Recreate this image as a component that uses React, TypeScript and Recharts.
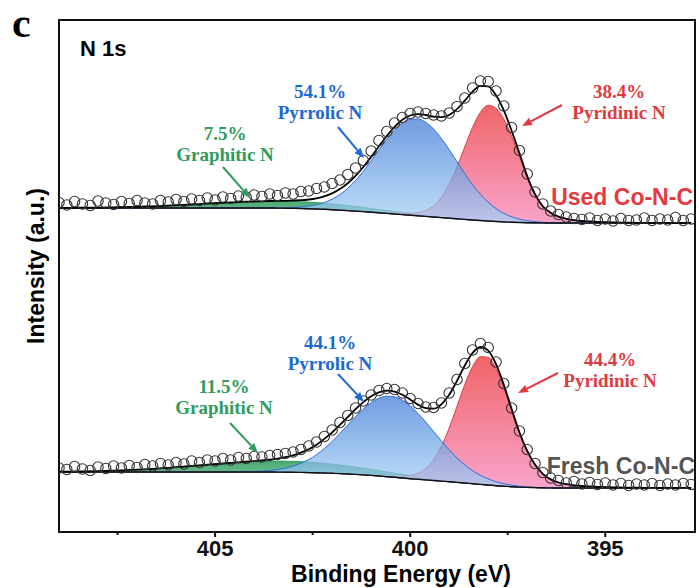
import React from 'react';
import { ComposedChart, Area, Line, Scatter, XAxis, YAxis, ReferenceArea } from 'recharts';

// binding energy grid (eV), high -> low
const energy = [
  409.0, 408.8, 408.6, 408.4, 408.2, 408.0, 407.8, 407.6, 407.4, 407.2,
  407.0, 406.8, 406.6, 406.4, 406.2, 406.0, 405.8, 405.6, 405.4, 405.2,
  405.0, 404.8, 404.6, 404.4, 404.2, 404.0, 403.8, 403.6, 403.4, 403.2,
  403.0, 402.8, 402.6, 402.4, 402.2, 402.0, 401.8, 401.6, 401.4, 401.2,
  401.0, 400.8, 400.6, 400.4, 400.2, 400.0, 399.8, 399.6, 399.4, 399.2,
  399.0, 398.8, 398.6, 398.4, 398.2, 398.0, 397.8, 397.6, 397.4, 397.2,
  397.0, 396.8, 396.6, 396.4, 396.2, 396.0, 395.8, 395.6, 395.4, 395.2,
  395.0, 394.8, 394.6, 394.4, 394.2, 394.0, 393.8, 393.6, 393.4, 393.2,
  393.0, 392.8,
];

// ---- Used Co-N-C (offset upwards) ----
const usedBackground = [
  324.0, 324.0, 324.0, 324.0, 324.0, 324.0, 324.0, 324.0, 324.0, 324.0,
  324.0, 324.0, 324.0, 324.0, 324.0, 324.0, 324.0, 324.0, 324.0, 324.0,
  324.0, 324.0, 324.0, 324.0, 324.0, 324.0, 324.0, 324.0, 323.9, 323.8,
  323.7, 323.5, 323.3, 323.0, 322.7, 322.3, 321.9, 321.4, 320.9, 320.4,
  319.8, 319.2, 318.6, 318.0, 317.4, 316.8, 316.2, 315.6, 315.0, 314.4,
  313.8, 313.2, 312.6, 312.0, 311.5, 311.0, 310.5, 310.1, 309.8, 309.5,
  309.3, 309.2, 309.1, 309.0, 309.0, 309.0, 309.0, 309.0, 309.0, 309.0,
  309.0, 309.0, 309.0, 309.0, 309.0, 309.0, 309.0, 309.0, 309.0, 309.0,
  309.0, 309.0,
];
const usedGraphitic = [
  0.1, 0.2, 0.2, 0.3, 0.3, 0.4, 0.5, 0.7, 0.8, 1.0,
  1.2, 1.5, 1.7, 2.0, 2.4, 2.7, 3.1, 3.5, 3.9, 4.4,
  4.8, 5.2, 5.6, 5.9, 6.3, 6.5, 6.7, 6.9, 7.0, 7.0,
  7.0, 6.8, 6.6, 6.4, 6.1, 5.8, 5.4, 5.0, 4.6, 4.1,
  3.7, 3.3, 2.9, 2.5, 2.2, 1.9, 1.6, 1.3, 1.1, 0.9,
  0.7, 0.6, 0.5, 0.4, 0.3, 0.2, 0.2, 0.1, 0.1, 0.1,
  0.1, 0, 0, 0, 0, 0, 0, 0, 0, 0,
  0, 0, 0, 0, 0, 0, 0, 0, 0, 0,
  0, 0,
];
const usedPyrrolic = [
  0, 0, 0, 0, 0, 0, 0, 0, 0, 0,
  0, 0, 0, 0, 0, 0, 0, 0, 0, 0,
  0, 0, 0, 0, 0, 0, 0, 0.1, 0.2, 0.4,
  0.8, 1.5, 2.6, 4.3, 6.8, 10.5, 15.6, 22.3, 30.6, 40.4,
  51.4, 62.9, 74.0, 83.9, 91.5, 96.0, 96.9, 94.1, 88.0, 79.2,
  68.5, 57.1, 45.8, 35.3, 26.2, 18.7, 12.9, 8.5, 5.4, 3.3,
  2.0, 1.1, 0.6, 0.3, 0.1, 0, 0, 0, 0, 0,
  0, 0, 0, 0, 0, 0, 0, 0, 0, 0,
  0, 0,
];
const usedPyridinic = [
  0, 0, 0, 0, 0, 0, 0, 0, 0, 0,
  0, 0, 0, 0, 0, 0, 0, 0, 0, 0,
  0, 0, 0, 0, 0, 0, 0, 0, 0, 0,
  0, 0, 0, 0, 0, 0, 0, 0, 0, 0.1,
  0.2, 0.3, 0.5, 0.8, 1.2, 1.8, 3.2, 6.0, 11.2, 20.4,
  34.0, 51.9, 72.5, 92.6, 108.2, 115.7, 113.1, 103.0, 86.0, 66.0,
  44.5, 27.5, 16.0, 10.0, 6.3, 4.2, 2.8, 2.0, 1.5, 1.1,
  0.8, 0.6, 0.4, 0.3, 0.2, 0.1, 0, 0, 0, 0,
  0, 0,
];
const usedRaw = [
  329.5, 327.0, 330.5, 328.0, 326.5, 331.0, 329.0, 327.5, 330.5, 328.5,
  331.5, 329.0, 328.0, 331.5, 330.0, 332.5, 330.5, 333.0, 331.5, 334.0,
  332.0, 335.0, 333.5, 336.0, 334.5, 337.0, 335.5, 338.0, 336.5, 339.0,
  338.0, 340.5, 341.0, 343.5, 345.0, 348.5, 352.0, 357.5, 364.0, 371.5,
  381.0, 391.5, 400.5, 409.0, 414.5, 418.5, 420.0, 418.5, 417.0, 416.0,
  419.0, 425.5, 434.0, 444.0, 451.0, 450.5, 441.0, 426.0, 404.5, 381.5,
  358.0, 340.0, 328.0, 321.0, 317.5, 315.0, 313.5, 312.5, 314.0, 311.5,
  313.0, 311.0, 313.5, 311.5, 312.0, 314.0, 311.5, 313.0, 312.0, 314.5,
  311.5, 313.0,
];

// ---- Fresh Co-N-C ----
const freshBackground = [
  60.0, 60.0, 60.0, 60.0, 60.0, 60.0, 60.0, 60.0, 60.0, 60.0,
  60.0, 60.0, 60.0, 60.0, 60.0, 60.0, 60.0, 60.0, 60.0, 60.0,
  60.0, 60.0, 60.0, 60.0, 60.0, 60.0, 60.0, 60.0, 59.9, 59.8,
  59.7, 59.6, 59.4, 59.2, 59.0, 58.7, 58.4, 58.0, 57.6, 57.1,
  56.6, 56.0, 55.3, 54.7, 54.0, 53.3, 52.7, 52.1, 51.5, 50.9,
  50.3, 49.6, 49.0, 48.3, 47.6, 47.0, 46.3, 45.8, 45.3, 44.9,
  44.6, 44.4, 44.2, 44.1, 44.0, 44.0, 44.0, 44.0, 44.0, 44.0,
  44.0, 44.0, 44.0, 44.0, 44.0, 44.0, 44.0, 44.0, 44.0, 44.0,
  44.0, 44.0,
];
const freshGraphitic = [
  0.3, 0.4, 0.5, 0.6, 0.7, 0.9, 1.1, 1.4, 1.6, 2.0,
  2.3, 2.7, 3.2, 3.7, 4.2, 4.8, 5.4, 6.0, 6.7, 7.3,
  7.9, 8.5, 9.1, 9.6, 10.0, 10.4, 10.7, 10.9, 11.0, 11.0,
  10.9, 10.7, 10.4, 10.0, 9.6, 9.1, 8.5, 7.9, 7.3, 6.7,
  6.0, 5.4, 4.8, 4.2, 3.7, 3.2, 2.7, 2.3, 2.0, 1.6,
  1.4, 1.1, 0.9, 0.7, 0.6, 0.5, 0.4, 0.3, 0.2, 0.2,
  0.1, 0.1, 0.1, 0, 0, 0, 0, 0, 0, 0,
  0, 0, 0, 0, 0, 0, 0, 0, 0, 0,
  0, 0,
];
const freshPyrrolic = [
  0, 0, 0, 0, 0, 0, 0, 0, 0, 0,
  0, 0, 0, 0, 0, 0, 0, 0, 0, 0,
  0, 0, 0, 0.1, 0.3, 0.5, 0.9, 1.5, 2.5, 4.0,
  6.1, 9.1, 13.0, 18.1, 24.5, 31.8, 40.2, 49.0, 57.8, 65.9,
  72.9, 77.8, 80.5, 80.5, 77.8, 72.9, 65.9, 57.8, 49.0, 40.2,
  31.8, 24.5, 18.1, 13.0, 9.1, 6.1, 4.0, 2.5, 1.5, 0.9,
  0.5, 0.3, 0.1, 0, 0, 0, 0, 0, 0, 0,
  0, 0, 0, 0, 0, 0, 0, 0, 0, 0,
  0, 0,
];
const freshPyridinic = [
  0, 0, 0, 0, 0, 0, 0, 0, 0, 0,
  0, 0, 0, 0, 0, 0, 0, 0, 0, 0,
  0, 0, 0, 0, 0, 0, 0, 0, 0, 0,
  0, 0, 0, 0, 0, 0, 0, 0, 0.1, 0.2,
  0.3, 0.5, 0.7, 1.0, 1.7, 3.2, 6.1, 11.6, 20.8, 35.0,
  53.7, 76.0, 98.5, 117.1, 127.7, 127.7, 117.1, 98.5, 76.0, 53.7,
  35.9, 22.7, 13.8, 8.5, 5.5, 3.8, 2.7, 2.0, 1.6, 1.2,
  0.9, 0.7, 0.5, 0.35, 0.25, 0.15, 0.1, 0, 0, 0,
  0, 0,
];
const freshRaw = [
  64.0, 62.5, 65.5, 63.0, 61.5, 65.0, 63.5, 66.0, 64.0, 66.5,
  64.5, 67.5, 66.0, 68.5, 67.0, 69.5, 68.0, 71.0, 69.5, 72.0,
  71.0, 73.5, 72.0, 74.5, 73.5, 75.5, 75.0, 76.5, 77.5, 78.5,
  80.0, 82.5, 86.0, 90.0, 95.5, 102.0, 109.5, 116.5, 124.0, 131.0,
  137.0, 141.5, 143.5, 142.5, 139.0, 133.5, 128.5, 125.0, 124.5, 129.0,
  139.0, 152.5, 168.5, 182.0, 188.5, 184.5, 170.0, 148.5, 124.0, 101.0,
  82.5, 68.5, 59.5, 54.0, 51.5, 49.0, 50.5, 48.0, 49.5, 47.5,
  49.0, 47.0, 48.5, 46.5, 48.0, 47.0, 48.5, 46.5, 48.0, 47.0,
  48.5, 47.5,
];

const majorTicks = [407.5, 405, 402.5, 400, 397.5, 395];

const SANS = '"Liberation Sans", Arial, sans-serif';
const SERIF = '"Liberation Serif", "Times New Roman", serif';
const BLUE = '#1d69d4';
const RED = '#e2393e';
const GREEN = '#2f9c5e';

const rows = energy.map((e, i) => {
  const ub = usedBackground[i];
  const fb = freshBackground[i];
  return {
    e,
    uBase: ub,
    uGra: [ub, ub + usedGraphitic[i]],
    uPyr: [ub, ub + usedPyrrolic[i]],
    uPyd: [ub, ub + usedPyridinic[i]],
    uFit: ub + usedGraphitic[i] + usedPyrrolic[i] + usedPyridinic[i],
    fBase: fb,
    fGra: [fb, fb + freshGraphitic[i]],
    fPyr: [fb, fb + freshPyrrolic[i]],
    fPyd: [fb, fb + freshPyridinic[i]],
    fFit: fb + freshGraphitic[i] + freshPyrrolic[i] + freshPyridinic[i],
  };
});

const usedPts = energy.map((e, i) => ({ e, y: usedRaw[i] }));
const freshPts = energy.map((e, i) => ({ e, y: freshRaw[i] }));

const EnergyTick = (props: any) => {
  const { x, y, payload } = props;
  const major = payload.value % 5 === 0;
  return (
    <g>
      <line x1={x} x2={x} y1={y} y2={y + (major ? 5 : 3)} stroke="#111" strokeWidth={2} />
      {major && (
        <text x={x} y={y + 24} textAnchor="middle" fontSize={22} fontWeight="bold" fontFamily={SANS} fill="#111">
          {payload.value}
        </text>
      )}
    </g>
  );
};

const Ring = (props: any) => (
  <circle cx={props.cx} cy={props.cy} r={5.2} fill="none" stroke="#333" strokeWidth={1.1} />
);

const Arrow = ({ x1, y1, x2, y2, color }: { x1: number; y1: number; x2: number; y2: number; color: string }) => {
  const a = Math.atan2(y2 - y1, x2 - x1);
  const len = 10;
  const w = 4;
  const bx = x2 - len * Math.cos(a);
  const by = y2 - len * Math.sin(a);
  const px = -Math.sin(a) * w;
  const py = Math.cos(a) * w;
  return (
    <g>
      <line x1={x1} y1={y1} x2={bx} y2={by} stroke={color} strokeWidth={2} />
      <polygon points={`${x2},${y2} ${bx + px},${by + py} ${bx - px},${by - py}`} fill={color} />
    </g>
  );
};

const Label = ({ x, y, lines, color }: { x: number; y: number; lines: string[]; color: string }) => (
  <text x={x} y={y} textAnchor="middle" fontFamily={SERIF} fontWeight="bold" fontSize={19} fill={color}>
    {lines.map((t, i) => (
      <tspan key={i} x={x} dy={i === 0 ? 0 : 21}>
        {t}
      </tspan>
    ))}
  </text>
);

export default function App() {
  return (
    <div style={{ position: 'absolute', left: 0, top: 0, width: 699, height: 588, background: '#fff', fontFamily: SANS }}>
      <ComposedChart width={699} height={588} data={rows} margin={{ top: 20, right: 4, bottom: 0, left: 59 }}>
        <defs>
          <linearGradient id="gBlue" x1="0" y1="0" x2="0" y2="1">
            <stop offset="0%" stopColor="#3b77d6" />
            <stop offset="100%" stopColor="#a6d3f6" />
          </linearGradient>
          <linearGradient id="gRed" x1="0" y1="0" x2="0" y2="1">
            <stop offset="0%" stopColor="#ee5458" />
            <stop offset="100%" stopColor="#f89ac6" />
          </linearGradient>
          <linearGradient id="gGreen" x1="0" y1="0" x2="0" y2="1">
            <stop offset="0%" stopColor="#2e9a5c" />
            <stop offset="100%" stopColor="#6fc396" />
          </linearGradient>
        </defs>
        <XAxis
          dataKey="e"
          type="number"
          domain={[392.7, 409]}
          reversed
          allowDataOverflow
          ticks={majorTicks}
          interval={0}
          axisLine={false}
          tickLine={false}
          tickSize={0}
          tickMargin={0}
          height={56}
          tick={<EnergyTick />}
        />
        <YAxis type="number" domain={[0, 512]} hide allowDataOverflow />

        <Area dataKey="uGra" type="monotone" fill="url(#gGreen)" fillOpacity={0.85} stroke={GREEN} strokeWidth={1} isAnimationActive={false} />
        <Area dataKey="uPyd" type="monotone" fill="url(#gRed)" fillOpacity={0.9} stroke={RED} strokeWidth={1} isAnimationActive={false} />
        <Area dataKey="uPyr" type="monotone" fill="url(#gBlue)" fillOpacity={0.72} stroke="#2f6fd2" strokeWidth={1} isAnimationActive={false} />
        <Area dataKey="fGra" type="monotone" fill="url(#gGreen)" fillOpacity={0.85} stroke={GREEN} strokeWidth={1} isAnimationActive={false} />
        <Area dataKey="fPyd" type="monotone" fill="url(#gRed)" fillOpacity={0.9} stroke={RED} strokeWidth={1} isAnimationActive={false} />
        <Area dataKey="fPyr" type="monotone" fill="url(#gBlue)" fillOpacity={0.72} stroke="#2f6fd2" strokeWidth={1} isAnimationActive={false} />

        <Line dataKey="uBase" type="monotone" stroke="#111" strokeWidth={1.4} dot={false} isAnimationActive={false} />
        <Line dataKey="fBase" type="monotone" stroke="#111" strokeWidth={1.4} dot={false} isAnimationActive={false} />

        <Scatter data={usedPts} dataKey="y" shape={<Ring />} isAnimationActive={false} />
        <Scatter data={freshPts} dataKey="y" shape={<Ring />} isAnimationActive={false} />

        <Line dataKey="uFit" type="monotone" stroke="#000" strokeWidth={1.8} dot={false} isAnimationActive={false} />
        <Line dataKey="fFit" type="monotone" stroke="#000" strokeWidth={1.8} dot={false} isAnimationActive={false} />

        <ReferenceArea x1={392.7} x2={409} y1={0} y2={512} fill="none" stroke="#111" strokeWidth={2} ifOverflow="visible" />
      </ComposedChart>

      <svg width={699} height={588} style={{ position: 'absolute', left: 0, top: 0, pointerEvents: 'none' }}>
        <text x={12} y={37} fontFamily={SERIF} fontWeight="bold" fontSize={42} fill="#000">c</text>
        <text x={80} y={56} fontFamily={SANS} fontWeight="bold" fontSize={22} fill="#000">N 1s</text>
        <text transform="translate(44 266) rotate(-90)" textAnchor="middle" fontFamily={SANS} fontWeight="bold" fontSize={23} fill="#000">
          Intensity (a.u.)
        </text>
        <text x={401} y={582} textAnchor="middle" fontFamily={SANS} fontWeight="bold" fontSize={23} fill="#000">
          Binding Energy (eV)
        </text>

        {/* used sample */}
        <Label x={320} y={98} lines={['54.1%', 'Pyrrolic N']} color={BLUE} />
        <Arrow x1={338} y1={127} x2={364} y2={158} color={BLUE} />
        <Label x={225} y={140} lines={['7.5%', 'Graphitic N']} color={GREEN} />
        <Arrow x1={223} y1={167} x2={250} y2={198} color={GREEN} />
        <Label x={619} y={98} lines={['38.4%', 'Pyridinic N']} color={RED} />
        <Arrow x1={562} y1={105} x2={522} y2={126} color={RED} />
        <text x={693} y={205} textAnchor="end" fontFamily={SANS} fontWeight="bold" fontSize={23} fill="#e4393e">Used Co-N-C</text>

        {/* fresh sample */}
        <Label x={330} y={349} lines={['44.1%', 'Pyrrolic N']} color={BLUE} />
        <Arrow x1={338} y1={374} x2={364} y2={402} color={BLUE} />
        <Label x={224} y={393} lines={['11.5%', 'Graphitic N']} color={GREEN} />
        <Arrow x1={230} y1={423} x2={258} y2={453} color={GREEN} />
        <Label x={610} y={366} lines={['44.4%', 'Pyridinic N']} color={RED} />
        <Arrow x1={558} y1={373} x2={518} y2={393} color={RED} />
        <text x={695} y={474} textAnchor="end" fontFamily={SANS} fontWeight="bold" fontSize={23} fill="#555">Fresh Co-N-C</text>
      </svg>
    </div>
  );
}
